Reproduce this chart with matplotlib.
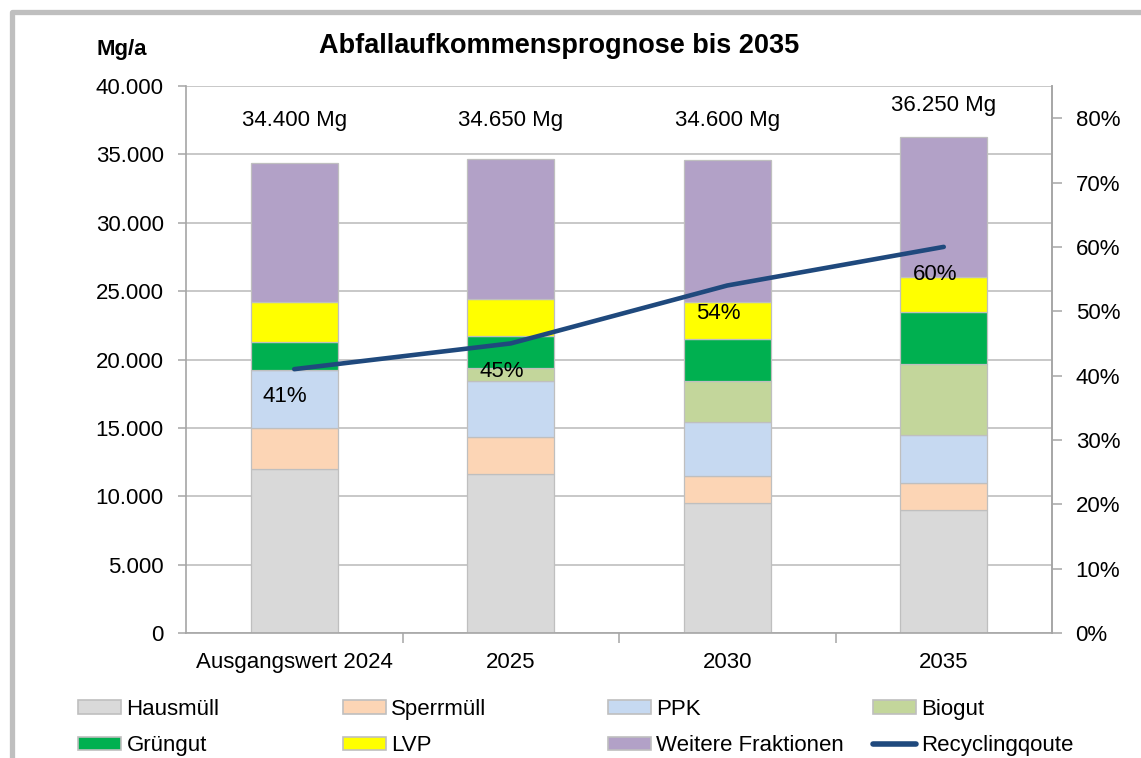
import matplotlib
matplotlib.use("Agg")
import matplotlib.pyplot as plt
from matplotlib.patches import Patch
from matplotlib.lines import Line2D
from matplotlib.ticker import FuncFormatter, MultipleLocator

plt.rcParams['font.family'] = ['Liberation Sans', 'DejaVu Sans']

categories = ["Ausgangswert 2024", "2025", "2030", "2035"]
hausmuell = [12000, 11600, 9500, 9000]
sperrmuell = [3000, 2700, 2000, 2000]
ppk = [4200, 4100, 3900, 3500]
biogut = [0, 950, 3000, 5200]
gruengut = [2100, 2350, 3100, 3800]
lvp = [2900, 2700, 2700, 2500]
weitere = [10200, 10250, 10400, 10250]
recycling = [0.41, 0.45, 0.54, 0.60]

series_names = ["Hausmüll", "Sperrmüll", "PPK", "Biogut", "Grüngut", "LVP",
                "Weitere Fraktionen"]
series_vals = [hausmuell, sperrmuell, ppk, biogut, gruengut, lvp, weitere]
colors = ["#D9D9D9", "#FCD5B5", "#C6D9F1", "#C3D69B", "#00B050", "#FFFF00", "#B2A1C7"]
line_color = "#1F497D"
line_name = "Recyclingqoute"
grid_c = "#BFBFBF"
axis_c = "#A6A6A6"

W, H = 1141, 758
fig = plt.figure(figsize=(W / 100, H / 100), dpi=100)
ax = fig.add_axes([186 / W, (H - 633) / H, (1052 - 186) / W, (633 - 86) / H])

x = list(range(len(categories)))
bottom = [0] * len(categories)
for name, vals, c in zip(series_names, series_vals, colors):
    ax.bar(x, vals, width=0.40, bottom=bottom, color=c, edgecolor=grid_c,
           linewidth=0.9, label=name, zorder=2)
    bottom = [b + v for b, v in zip(bottom, vals)]
totals = bottom

ax.set_xlim(-0.5, len(categories) - 0.5)
ax.set_ylim(0, 40000)
ax.yaxis.set_major_locator(MultipleLocator(5000))
ax.yaxis.set_major_formatter(FuncFormatter(lambda v, p: f"{v:,.0f}".replace(",", ".")))
ax.set_xticks(x)
ax.set_xticklabels(categories)
ax.set_xticks([i + 0.5 for i in x[:-1]], minor=True)
ax.tick_params(axis='x', which='major', length=0, pad=14, labelsize=16)
ax.tick_params(axis='x', which='minor', length=7, width=1.1, color=axis_c, direction='out')
ax.tick_params(axis='y', length=6, width=1.1, color=axis_c, pad=10, labelsize=16)
ax.grid(axis='y', color=grid_c, linewidth=1.2)
ax.set_axisbelow(True)
for s in ['top']:
    ax.spines[s].set_visible(False)
for s in ['left', 'bottom', 'right']:
    ax.spines[s].set_color(axis_c)
    ax.spines[s].set_linewidth(1.2)

for xi, t in zip(x, totals):
    ax.text(xi, max(t + 2350, 37500), f"{t:,.0f}".replace(",", ".") + " Mg",
            ha='center', va='center', fontsize=16)

ax2 = ax.twinx()
ax2.plot(x, recycling, color=line_color, linewidth=3.3, solid_capstyle='round',
         solid_joinstyle='round', zorder=5)
ax2.set_ylim(0, 0.85)
ax2.yaxis.set_major_locator(MultipleLocator(0.10))
ax2.yaxis.set_major_formatter(FuncFormatter(lambda v, p: f"{v*100:.0f}%" if v <= 0.801 else ""))
ax2.tick_params(axis='y', length=7, width=1.1, color=axis_c, pad=10, labelsize=16)
for s in ['top', 'left', 'bottom']:
    ax2.spines[s].set_visible(False)
ax2.spines['right'].set_color(axis_c)
ax2.spines['right'].set_linewidth(1.2)
for xi, r in zip(x, recycling):
    ax2.annotate(f"{r*100:.0f}%", (xi, r), xytext=(-6.5, -20), textcoords='offset points',
                 ha='center', va='center', fontsize=16)

fig.text(559 / W, 1 - 46 / H, "Abfallaufkommensprognose bis 2035", ha='center', va='center',
         fontsize=19.5, fontweight='bold')
fig.text(122 / W, 1 - 49 / H, "Mg/a", ha='center', va='center', fontsize=16, fontweight='bold')

# outer chart frame
fig.add_artist(Line2D([11.5 / W, 11.5 / W, 1.0], [0, 1 - 11.5 / H, 1 - 11.5 / H],
                      transform=fig.transFigure, color=grid_c, linewidth=3.8,
                      solid_joinstyle='round'))

handles = [Patch(facecolor=c, edgecolor=grid_c, linewidth=1.2) for c in colors]
handles.append(Line2D([], [], color=line_color, linewidth=4, solid_capstyle='round'))
labels = series_names + [line_name]
col_x = [78, 343, 608, 873]
for ci, cx in enumerate(col_x):
    fig.legend(handles=[handles[ci], handles[ci + 4]], labels=[labels[ci], labels[ci + 4]],
               loc='upper left', bbox_to_anchor=(cx / W, 1 - 699 / H), frameon=False,
               borderpad=0, borderaxespad=0, handlelength=1.93, handleheight=0.55,
               handletextpad=0.25, labelspacing=0.68, fontsize=16)

fig.savefig("out.png", dpi=100)
